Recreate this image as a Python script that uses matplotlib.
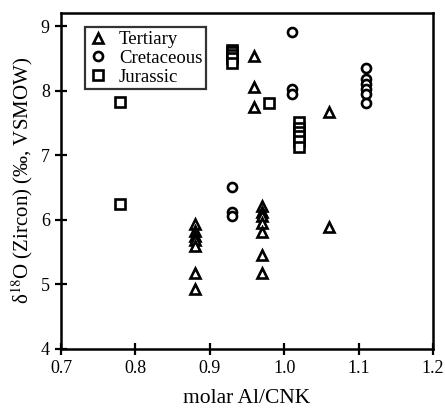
import matplotlib
matplotlib.use("Agg")
import matplotlib.pyplot as plt
from matplotlib.ticker import MultipleLocator

plt.rcParams['font.family'] = ['Liberation Serif', 'DejaVu Serif']
plt.rcParams['mathtext.fontset'] = 'stix'

# Tertiary samples
tert_x = [0.88, 0.88, 0.88, 0.88, 0.88, 0.88, 0.88,
          0.96, 0.96, 0.96,
          0.97, 0.97, 0.97, 0.97, 0.97, 0.97, 0.97,
          1.06, 1.06]
tert_y = [5.93, 5.82, 5.75, 5.68, 5.60, 5.17, 4.93,
          8.53, 8.06, 7.75,
          6.22, 6.12, 6.05, 5.95, 5.81, 5.46, 5.18,
          7.67, 5.88]

# Cretaceous samples
cret_x = [0.93, 0.93, 0.93,
          1.01, 1.01, 1.01,
          1.11, 1.11, 1.11, 1.11, 1.11, 1.11]
cret_y = [6.50, 6.12, 6.05,
          8.91, 8.03, 7.95,
          8.35, 8.18, 8.10, 8.02, 7.95, 7.80]

# Jurassic samples
jur_x = [0.78, 0.78,
         0.93, 0.93, 0.93, 0.93, 0.93,
         0.98,
         1.02, 1.02, 1.02, 1.02, 1.02, 1.02]
jur_y = [7.83, 6.25,
         8.63, 8.60, 8.55, 8.50, 8.42,
         7.81,
         7.52, 7.42, 7.36, 7.30, 7.22, 7.12]

fig = plt.figure(figsize=(4.45, 4.09), dpi=100)
ax = fig.add_axes([0.137, 0.147, 0.836, 0.821])

mk = dict(linestyle='none', markerfacecolor='white', markeredgecolor='black',
          markeredgewidth=1.9, markersize=6.5)
ax.plot(tert_x, tert_y, marker='^', label='Tertiary', **mk)
ax.plot(cret_x, cret_y, marker='o', label='Cretaceous', **mk)
ax.plot(jur_x, jur_y, marker='s', label='Jurassic', **mk)

ax.set_xlim(0.7, 1.2)
ax.set_ylim(4, 9.2)
ax.yaxis.set_major_locator(MultipleLocator(1))
ax.set_xticks([0.7, 0.8, 0.9, 1.0, 1.1, 1.2])
ax.set_xticklabels(['0.7', '0.8', '0.9', '1.0', '1.1', '1.2'])
ax.tick_params(direction='inout', length=8, width=1.6, labelsize=13, pad=4)
for s in ax.spines.values():
    s.set_linewidth(1.8)

ax.set_xlabel('molar Al/CNK', fontsize=15.5, labelpad=9)
ax.set_ylabel('δ$^{18}$O (Zircon) (‰, VSMOW)', fontsize=15, labelpad=4)

leg = ax.legend(loc='upper left', bbox_to_anchor=(0.04, 0.985), fontsize=13.5,
                frameon=True, fancybox=False, handlelength=1.0,
                handletextpad=0.6, labelspacing=0.08, borderpad=0.2)
leg.get_frame().set_edgecolor('black')
leg.get_frame().set_linewidth(1.6)

fig.savefig('out.png', dpi=100)
